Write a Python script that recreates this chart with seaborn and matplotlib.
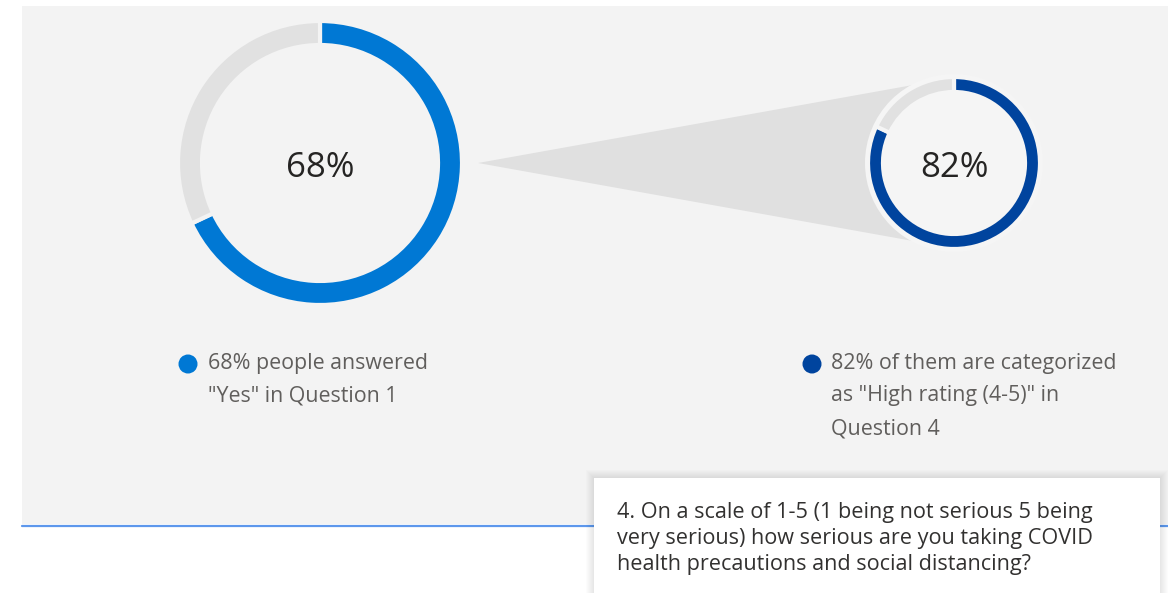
import numpy as np
import seaborn as sns
import matplotlib.pyplot as plt
from matplotlib.patches import Circle, Rectangle, Polygon

# survey values
q1_labels = ["Yes", "Other"]
q1_values = [68, 32]
q4_labels = ["High rating (4-5)", "Other"]
q4_values = [82, 18]

q1_text = ['68% people answered', '"Yes" in Question 1']
q4_text = ['82% of them are categorized', 'as "High rating (4-5)" in', 'Question 4']
tooltip_text = ['4. On a scale of 1-5 (1 being not serious 5 being',
                'very serious) how serious are you taking COVID',
                'health precautions and social distancing?']

W, H = 1168, 593
panel = '#f3f3f3'
blue = '#0078d4'
navy = '#00449e'
ring_gray = '#e1e1e1'

sns.set_theme(style="white")
plt.rcParams['font.family'] = ['Open Sans', 'DejaVu Sans']

fig = plt.figure(figsize=(W / 100, H / 100), dpi=100)
ax = fig.add_axes([0, 0, 1, 1])
fig.patch.set_facecolor('white')

# background panel and bottom rule
ax.add_patch(Rectangle((22, 6), W - 22, 518, facecolor=panel, edgecolor='none', zorder=0))
ax.plot([22, W], [526, 526], color='#5d97ec', lw=1.6, zorder=1)

# funnel wedge from big donut to small donut
c1 = (320, 163)
c2 = (954, 163)
apex = (478, 163)
r_t = 84
d = c2[0] - apex[0]
a = np.arcsin(r_t / d)
L = np.sqrt(d ** 2 - r_t ** 2)
p_top = (apex[0] + L * np.cos(a), apex[1] - L * np.sin(a))
p_bot = (apex[0] + L * np.cos(a), apex[1] + L * np.sin(a))
ax.add_patch(Polygon([apex, p_top, c2, p_bot], closed=True, facecolor='#e0e0e0',
                     edgecolor='none', zorder=1))
ax.add_patch(Circle(c2, 89, facecolor='#f5f5f5', edgecolor='none', zorder=2))

# donuts (y axis is inverted, so counterclock=True reads clockwise)
w1, _ = ax.pie(q1_values, colors=[blue, ring_gray], center=c1, radius=142, startangle=-90,
               counterclock=True, frame=True,
               wedgeprops=dict(width=24, edgecolor=panel, linewidth=3))
w2, _ = ax.pie(q4_values, colors=[navy, ring_gray], center=c2, radius=86, startangle=-90,
               counterclock=True, frame=True,
               wedgeprops=dict(width=15, edgecolor='#f5f5f5', linewidth=3))
for p in list(w1) + list(w2):
    p.set_zorder(3)

ax.text(c1[0], 177, f"{q1_values[0]}%", ha='center', va='baseline', fontsize=25, color='#252423', zorder=5)
ax.text(c2[0], 177, f"{q4_values[0]}%", ha='center', va='baseline', fontsize=25, color='#252423', zorder=5)

# legend-like captions
ax.add_patch(Circle((188, 364), 9.5, facecolor=blue, edgecolor='none', zorder=5))
for i, line in enumerate(q1_text):
    ax.text(208, 369 + i * 32.5, line, ha='left', va='baseline', fontsize=15.4, color='#605e5c', zorder=5)
ax.add_patch(Circle((812, 364), 9.5, facecolor=navy, edgecolor='none', zorder=5))
for i, line in enumerate(q4_text):
    ax.text(831, 369 + i * 32.5, line, ha='left', va='baseline', fontsize=15.4, color='#605e5c', zorder=5)

# tooltip box with soft shadow
bx, by, bw, bh = 594, 478, 566, 130
for g in range(8, 0, -1):
    ax.add_patch(Rectangle((bx - g, by - g), bw + 2 * g, bh + 2 * g, facecolor='black',
                           alpha=0.012, edgecolor='none', zorder=6))
ax.add_patch(Rectangle((bx, by), bw, bh, facecolor='white', edgecolor='none', zorder=7))
for i, line in enumerate(tooltip_text):
    ax.text(617, 518 + i * 26, line, ha='left', va='baseline', fontsize=15.6, color='#323130', zorder=8)

ax.set_xlim(0, W)
ax.set_ylim(H, 0)
ax.set_aspect('auto')
ax.axis('off')

fig.savefig('out.png', dpi=100, facecolor='white')
